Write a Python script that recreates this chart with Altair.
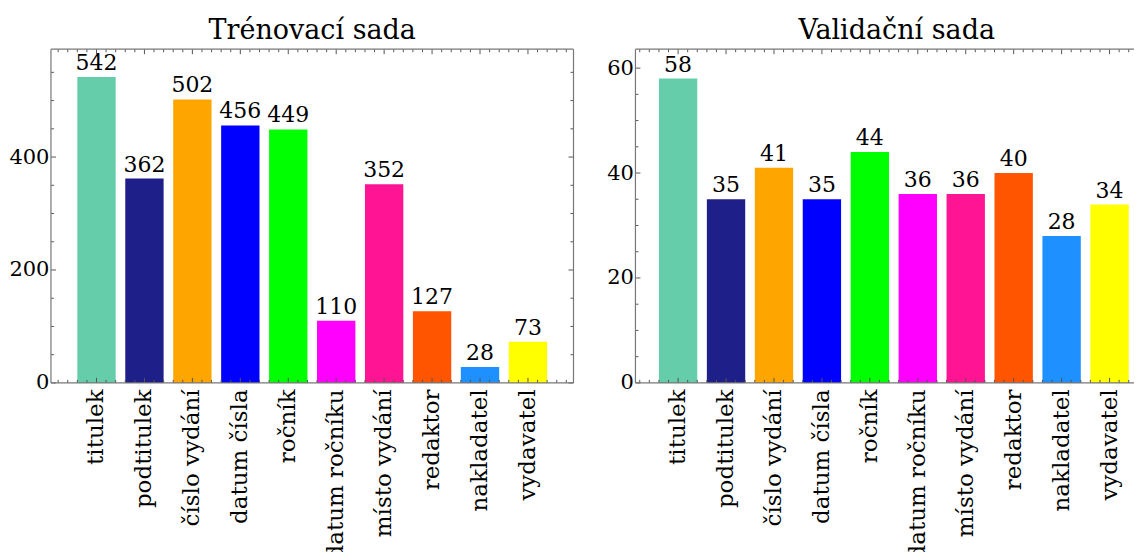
import altair as alt
import pandas as pd

categories = ["titulek", "podtitulek", "číslo vydání", "datum čísla", "ročník",
              "datum ročníku", "místo vydání", "redaktor", "nakladatel", "vydavatel"]
train_values = [542, 362, 502, 456, 449, 110, 352, 127, 28, 73]
val_values = [58, 35, 41, 35, 44, 36, 36, 40, 28, 34]
colors = ["#66CDAA", "#1F1F8A", "#FFA500", "#0000FF", "#00FF00",
          "#FF00FF", "#FF1493", "#FF5500", "#1E90FF", "#FFFF00"]

train_major = [0, 200, 400]
train_minor = [50, 100, 150, 250, 300, 350, 450, 500, 550]
val_major = [0, 20, 40, 60]
val_minor = [5, 10, 15, 25, 30, 35, 45, 50, 55]
x_major = list(range(10))
x_minor = [round(i + k * 0.2, 1) for i in range(-1, 10) for k in range(1, 5)]

FONT = "DejaVu Serif"
H = 334
FULL_W = 523
N = len(categories)
PI = 0.2
PO = 0.55
STEP = FULL_W / (N - PI + 2 * PO)
TICK = "#555555"
FRAME = "#777777"
YEXT = 42


def panel(values, title, ymax, major, minor, W, title_dx, first_off):
    df = pd.DataFrame({"cat": categories, "v": values})
    clipped = W < FULL_W
    # band layout: same step as a full-width panel, first band starting first_off px in
    po = (W / STEP - (N - PI)) / 2
    align = first_off / (2 * po * STEP)
    xlo = -(first_off / STEP + (1 - PI) / 2)
    xend = xlo + W / STEP
    yaxis = alt.Axis(values=major, title=None, ticks=False, domain=False, grid=False,
                     labelFontSize=21, labelFont=FONT, labelColor="black", labelPadding=2,
                     minExtent=YEXT, maxExtent=YEXT)
    yscale = alt.Scale(domain=[0, ymax], nice=False, zero=True)
    x = alt.X("cat:N", sort=categories, title=None,
              scale=alt.Scale(paddingInner=PI, paddingOuter=po, align=align),
              axis=alt.Axis(labelAngle=-90, ticks=False, domain=False, labelFontSize=23,
                            labelFont=FONT, labelColor="black", labelPadding=6, labelLimit=300))
    bars = alt.Chart(df).mark_bar().encode(
        x=x,
        y=alt.Y("v:Q", scale=yscale, axis=yaxis),
        color=alt.Color("cat:N", scale=alt.Scale(domain=categories, range=colors), legend=None),
    )
    text = alt.Chart(df).mark_text(baseline="bottom", dy=-2, fontSize=22, font=FONT,
                                   color="black").encode(
        x=x, y=alt.Y("v:Q", scale=yscale, axis=yaxis), text="v:Q")

    xq = alt.Scale(domain=[xlo, xend], range=[0, W], nice=False, zero=False)
    tick_layers = []
    for vals, ln in ((major, 5), (minor, 3)):
        tdf = pd.DataFrame({"v": vals})
        edges = [(0, ln)] if clipped else [(0, ln), (W - ln, W)]
        for x0, x1 in edges:
            tick_layers.append(alt.Chart(tdf).mark_rule(color=TICK, strokeWidth=1).encode(
                y=alt.Y("v:Q", scale=yscale, axis=yaxis),
                x=alt.value(x0), x2=alt.value(x1)))
    for vals, ln in ((x_major, 5), (x_minor, 3)):
        tdf = pd.DataFrame({"p": [p for p in vals if xlo < p < xend]})
        for y0, y1 in ((0, ln), (H - ln, H)):
            tick_layers.append(alt.Chart(tdf).mark_rule(color=TICK, strokeWidth=1).encode(
                x=alt.X("p:Q", scale=xq, axis=None),
                y=alt.value(y0), y2=alt.value(y1)))
    left_df = pd.DataFrame({"p": [xlo]})
    frame = [
        alt.Chart(left_df).mark_rule(color=FRAME, strokeWidth=1.2).encode(
            x=alt.X("p:Q", scale=xq, axis=None), y=alt.value(0), y2=alt.value(H)),
        alt.Chart(left_df).mark_rule(color=FRAME, strokeWidth=1.2).encode(
            x=alt.X("p:Q", scale=xq, axis=None), x2=alt.value(W), y=alt.value(0)),
        alt.Chart(left_df).mark_rule(color=FRAME, strokeWidth=1.2).encode(
            x=alt.X("p:Q", scale=xq, axis=None), x2=alt.value(W), y=alt.value(H)),
    ]
    if not clipped:
        frame.append(alt.Chart(pd.DataFrame({"p": [xend]})).mark_rule(
            color=FRAME, strokeWidth=1.2).encode(
            x=alt.X("p:Q", scale=xq, axis=None), y=alt.value(0), y2=alt.value(H)))
    back = alt.layer(*tick_layers, *frame)
    return alt.layer(alt.layer(bars, text), back).resolve_scale(x="independent").properties(
        width=W, height=H,
        view=alt.ViewBackground(stroke=None),
        title=alt.TitleParams(title, fontSize=27, font=FONT, fontWeight="normal",
                              color="black", offset=4, dx=title_dx))


left = panel(train_values, "Trénovací sada", 591, train_major, train_minor, FULL_W, 0,
             PO * STEP)
right = panel(val_values, "Validační sada", 63.6, val_major, val_minor, 499, 12, 23.5)

chart = alt.hconcat(left, right, spacing=19,
                    padding={"left": 0, "top": 8, "right": 0, "bottom": 0}
                    ).configure(background="white")

chart.save("out.html", embed_options={"renderer": "svg", "actions": False})
